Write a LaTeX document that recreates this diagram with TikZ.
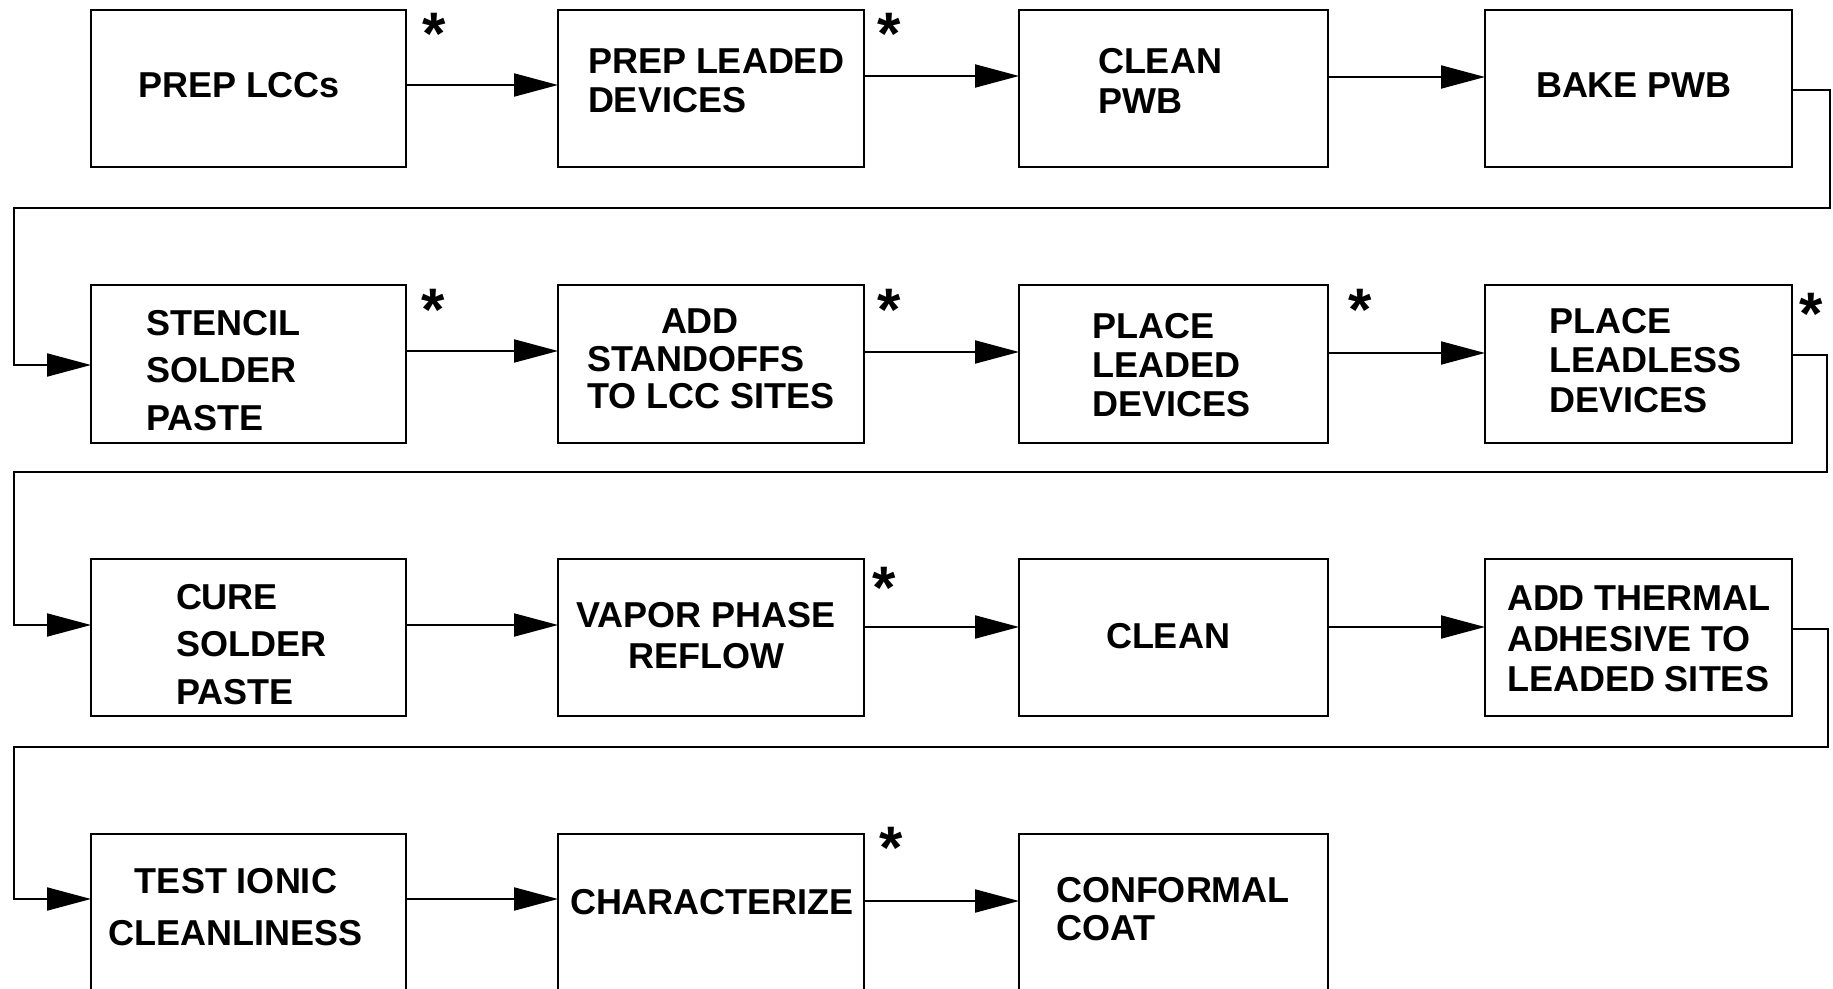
\documentclass[tikz,border=0pt]{standalone}
\usepackage{fontspec}
\setmainfont{Liberation Sans}
\usetikzlibrary{arrows.meta}
\begin{document}
\begin{tikzpicture}[x=0.5pt,y=-0.5pt,
  box/.style={draw, line width=1pt, rectangle, inner sep=0pt, outer sep=0pt},
  lbl/.style={font=\bfseries\fontsize{18}{#1}\selectfont, inner sep=0pt, outer sep=0pt, align=left},
  lblc/.style={font=\bfseries\fontsize{18}{#1}\selectfont, inner sep=0pt, outer sep=0pt, align=center},
  arr/.style={line width=1pt, -{Triangle[length=22pt,width=11.5pt]}},
  star/.style={font=\bfseries\fontsize{30}{30}\selectfont, inner sep=0pt, anchor=north}]
\useasboundingbox (0,0) rectangle (1833,989);
\clip (0,0) rectangle (1833,989);
% row 1
\node[box, minimum width=157.5pt, minimum height=78.5pt] (b11) at (248.5,88.5) {};
\node[box, minimum width=153pt,   minimum height=78.5pt] (b12) at (711,88.5) {};
\node[box, minimum width=154.5pt, minimum height=78.5pt] (b13) at (1173.5,88.5) {};
\node[box, minimum width=153.5pt, minimum height=78.5pt] (b14) at (1638.5,88.5) {};
% row 2
\node[box, minimum width=157.5pt, minimum height=79pt] (b21) at (248.5,364) {};
\node[box, minimum width=153pt,   minimum height=79pt] (b22) at (711,364) {};
\node[box, minimum width=154.5pt, minimum height=79pt] (b23) at (1173.5,364) {};
\node[box, minimum width=153.5pt, minimum height=79pt] (b24) at (1638.5,364) {};
% row 3
\node[box, minimum width=157.5pt, minimum height=78.5pt] (b31) at (248.5,637.5) {};
\node[box, minimum width=153pt,   minimum height=78.5pt] (b32) at (711,637.5) {};
\node[box, minimum width=154.5pt, minimum height=78.5pt] (b33) at (1173.5,637.5) {};
\node[box, minimum width=153.5pt, minimum height=78.5pt] (b34) at (1638.5,637.5) {};
% row 4
\node[box, minimum width=157.5pt, minimum height=88pt] (b41) at (248.5,922) {};
\node[box, minimum width=153pt,   minimum height=88pt] (b42) at (711,922) {};
\node[box, minimum width=154.5pt, minimum height=88pt] (b43) at (1173.5,922) {};
% texts
\node[lbl=20, anchor=base west] (t11) at (138,98) {PREP LCCs};
\node[lbl=19.5, anchor=north west] (t12) at (588,49) {PREP LEADED\\DEVICES};
\node[lbl=20, anchor=north west] (t13) at (1098,48) {CLEAN\\PWB};
\node[lbl=20, anchor=base west] (t14) at (1536,98) {BAKE PWB};
\node[lbl=23.75, anchor=north west] (t21) at (146,310) {STENCIL\\SOLDER\\PASTE};
\node[lbl=18.75, anchor=north west] (t22) at (587,309) {\hspace*{37pt}ADD\\STANDOFFS\\TO LCC SITES};
\node[lbl=19.5, anchor=north west] (t23) at (1092,313) {PLACE\\LEADED\\DEVICES};
\node[lbl=19.75, anchor=north west] (t24) at (1549,308) {PLACE\\LEADLESS\\DEVICES};
\node[lbl=23.75, anchor=north west] (t31) at (176,584) {CURE\\SOLDER\\PASTE};
\node[lblc=20.5, anchor=north] (t32) at (706,602) {VAPOR PHASE\\REFLOW};
\node[lbl=20, anchor=base] (t33) at (1168,649) {CLEAN};
\node[lbl=20.25, anchor=north west] (t34) at (1507,586) {ADD THERMAL\\ADHESIVE TO\\LEADED SITES};
\node[lblc=26, anchor=north] (t41) at (236,868) {TEST IONIC\\CLEANLINESS};
\node[lbl=20, anchor=base] (t42) at (712,914) {CHARACTERIZE};
\node[lbl=19, anchor=north west] (t43) at (1056,877) {CONFORMAL\\COAT};
% asterisks
\node[star] (s11) at (434,13) {*};
\node[star] (s12) at (889,13) {*};
\node[star] (s21) at (433,289) {*};
\node[star] (s22) at (889,289) {*};
\node[star] (s23) at (1360,289) {*};
\node[star] (s24) at (1811,293) {*};
\node[star] (s32) at (884,567) {*};
\node[star] (s42) at (891,827) {*};
% connectors row 1
\draw[arr] (b11.east |- 0,85) -- (b12.west |- 0,85);
\draw[arr] (b12.east |- 0,76) -- (b13.west |- 0,76);
\draw[arr] (b13.east |- 0,77) -- (b14.west |- 0,77);
\draw[arr] (b14.east |- 0,90) -| (1830,208) -| (14,365) -- (b21.west |- 0,365);
% row 2
\draw[arr] (b21.east |- 0,351) -- (b22.west |- 0,351);
\draw[arr] (b22.east |- 0,352) -- (b23.west |- 0,352);
\draw[arr] (b23.east |- 0,353) -- (b24.west |- 0,353);
\draw[arr] (b24.east |- 0,355) -| (1827,472) -| (14,625) -- (b31.west |- 0,625);
% row 3
\draw[arr] (b31.east |- 0,625) -- (b32.west |- 0,625);
\draw[arr] (b32.east |- 0,627) -- (b33.west |- 0,627);
\draw[arr] (b33.east |- 0,627) -- (b34.west |- 0,627);
\draw[arr] (b34.east |- 0,629) -| (1828,747) -| (14,899) -- (b41.west |- 0,899);
% row 4
\draw[arr] (b41.east |- 0,899) -- (b42.west |- 0,899);
\draw[arr] (b42.east |- 0,901) -- (b43.west |- 0,901);
\end{tikzpicture}
\end{document}
